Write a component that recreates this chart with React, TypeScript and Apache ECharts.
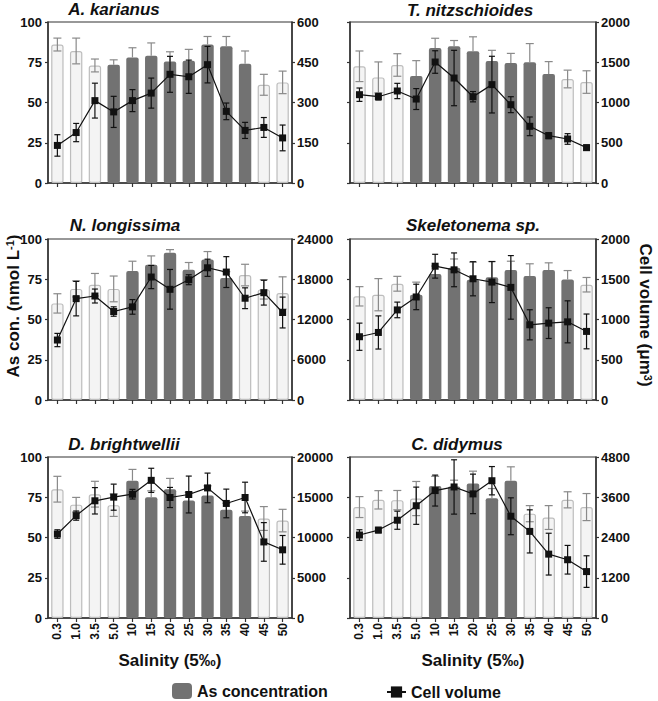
import React, { useEffect, useRef } from 'react';
import * as echarts from 'echarts';

const categories = ['0.3', '1.0', '3.5', '5.0', '10', '15', '20', '25', '30', '35', '40', '45', '50'];

// A. karianus
const akBar = [86, 82, 73, 73.5, 78, 79, 75.5, 76, 86, 85, 74, 61, 62.5];
const akBarErr = [4, 8, 4, 3, 6, 8, 6, 7, 5, 6, 8, 6.5, 7];
const akVol = [140, 188, 307, 265, 307, 335, 405, 396, 441, 267, 196, 207, 168];
const akVolErr = [40, 34, 65, 58, 41, 56, 67, 62, 68, 31, 30, 37, 48];
const akDark = [0, 0, 0, 1, 1, 1, 1, 1, 1, 1, 1, 0, 0];

// T. nitzschioides
const tnBar = [72.5, 65.6, 73.3, 66.5, 83.9, 85, 81.8, 75.8, 74.5, 75, 67.7, 64.6, 62.7];
const tnBarErr = [9.5, 9.6, 7, 9.5, 6, 3.5, 9, 6.6, 6, 11.6, 7.7, 5.5, 7];
const tnVol = [1097, 1072, 1143, 1043, 1503, 1304, 1072, 1222, 973, 704, 588, 547, 439];
const tnVolErr = [83, 41, 95, 130, 140, 344, 64, 352, 99, 116, 37, 66, 33];
const tnDark = [0, 0, 0, 1, 1, 1, 1, 1, 1, 1, 1, 0, 0];

// N. longissima
const nlBar = [60, 69, 71.6, 69, 80.2, 84, 91.4, 80.9, 87.2, 75.7, 77.6, 68.7, 66.5];
const nlBarErr = [6, 5, 7, 8, 6, 5.5, 2, 4.5, 5, 4, 6.7, 6, 10];
const nlVol = [8940, 15110, 15500, 13190, 13880, 18330, 16500, 17930, 19710, 19070, 15170, 16000, 13040];
const nlVolErr = [990, 2570, 1040, 700, 1090, 1730, 2960, 740, 1280, 2300, 1550, 1850, 2300];
const nlDark = [0, 0, 0, 0, 1, 1, 1, 1, 1, 1, 0, 0, 0];

// Skeletonema sp.
const skBar = [64.4, 65.4, 72.2, 65.4, 78.2, 82.1, 74.7, 76.3, 80.7, 77, 80.7, 74.9, 71.6];
const skBarErr = [6, 10, 4.6, 7.8, 5, 5.5, 11, 9.7, 5.5, 7.6, 4.5, 5.5, 4.5];
const skVol = [786, 839, 1119, 1280, 1662, 1617, 1506, 1465, 1399, 934, 955, 971, 852];
const skVolErr = [169, 206, 97, 158, 148, 210, 212, 255, 395, 187, 191, 261, 216];
const skDark = [0, 0, 0, 1, 1, 1, 1, 1, 1, 1, 1, 1, 0];

// D. brightwellii
const dbBar = [80, 70.4, 76.9, 70.1, 85.3, 75, 80, 73, 76.1, 67.3, 63.4, 61.8, 60.5];
const dbBarErr = [8, 4.5, 8, 7, 7, 4, 6.7, 5, 6, 4, 3, 7.4, 7];
const dbVol = [10430, 12720, 14560, 15010, 15380, 17100, 14970, 15340, 16160, 14230, 14970, 9450, 8470];
const dbVolErr = [530, 570, 1640, 1620, 600, 1500, 1250, 2290, 1840, 1780, 1900, 2400, 1780];
const dbDark = [0, 0, 0, 0, 1, 1, 1, 1, 1, 1, 1, 0, 0];

// C. didymus
const cdBar = [68.9, 73.4, 73.2, 74.2, 82, 81.6, 83.6, 74.4, 85.3, 64.8, 62.4, 73.4, 68.9];
const cdBarErr = [6.5, 5.7, 6, 10.6, 6, 4, 7.6, 6, 8.6, 5, 7.4, 5, 8.4];
const cdVol = [2474, 2621, 2915, 3347, 3799, 3907, 3700, 4093, 3033, 2582, 1904, 1737, 1384];
const cdVolErr = [157, 79, 270, 555, 461, 810, 589, 422, 550, 643, 623, 427, 471];
const cdDark = [0, 0, 0, 0, 1, 1, 1, 1, 1, 0, 0, 0, 0];

const titles = ['A. karianus', 'T. nitzschioides', 'N. longissima', 'Skeletonema sp.', 'D. brightwellii', 'C. didymus'];
const volMaxes = [600, 2000, 24000, 2000, 20000, 4800];

const panels = [
  { bar: akBar, barErr: akBarErr, vol: akVol, volErr: akVolErr, dark: akDark },
  { bar: tnBar, barErr: tnBarErr, vol: tnVol, volErr: tnVolErr, dark: tnDark },
  { bar: nlBar, barErr: nlBarErr, vol: nlVol, volErr: nlVolErr, dark: nlDark },
  { bar: skBar, barErr: skBarErr, vol: skVol, volErr: skVolErr, dark: skDark },
  { bar: dbBar, barErr: dbBarErr, vol: dbVol, volErr: dbVolErr, dark: dbDark },
  { bar: cdBar, barErr: cdBarErr, vol: cdVol, volErr: cdVolErr, dark: cdDark },
];

// layout
const colLeft = [48, 350];
const colWidth = [244, 246];
const rowTop = [22, 239, 457];
const plotHeight = 161;
const titlePos = [
  [114, 9], [470, 10], [125, 225], [473, 225], [124, 444], [457, 444],
];

const FONT = 'Liberation Sans, Arial, Helvetica, sans-serif';
const DARK = '#727272';
const LIGHT_FILL = '#f4f4f4';
const LIGHT_BORDER = '#bdbdbd';
const AXIS_COLOR = '#333333';

function makeErr(capHalf: number, color: string, width: number) {
  return (params: any, api: any) => {
    const i = api.value(0);
    const lo = api.coord([i, api.value(1)]);
    const hi = api.coord([i, api.value(2)]);
    const lowCap = api.value(3);
    const x = hi[0];
    const style = { stroke: color, lineWidth: width, fill: 'none' };
    const children: any[] = [
      { type: 'line', shape: { x1: x, y1: lo[1], x2: x, y2: hi[1] }, style },
      { type: 'line', shape: { x1: x - capHalf, y1: hi[1], x2: x + capHalf, y2: hi[1] }, style },
    ];
    if (lowCap) {
      children.push({ type: 'line', shape: { x1: x - capHalf, y1: lo[1], x2: x + capHalf, y2: lo[1] }, style });
    }
    return { type: 'group', children };
  };
}

function buildOption() {
  const grid: any[] = [];
  const xAxis: any[] = [];
  const yAxis: any[] = [];
  const series: any[] = [];
  const graphic: any[] = [];

  panels.forEach((p, k) => {
    const col = k % 2;
    const row = Math.floor(k / 2);
    const bottom = row === 2;
    grid.push({
      left: colLeft[col],
      top: rowTop[row],
      width: colWidth[col],
      height: plotHeight,
      show: true,
      borderColor: AXIS_COLOR,
      borderWidth: 1.2,
      backgroundColor: 'transparent',
    });
    xAxis.push({
      type: 'category',
      gridIndex: k,
      data: categories,
      boundaryGap: true,
      axisLine: { show: true, lineStyle: { color: AXIS_COLOR, width: 1.5 } },
      axisTick: { show: true, alignWithLabel: true, length: 4, lineStyle: { color: AXIS_COLOR, width: 1.2 } },
      axisLabel: {
        show: bottom,
        interval: 0,
        rotate: 90,
        margin: 5,
        fontSize: 12,
        fontWeight: 'bold',
        fontFamily: FONT,
        color: '#111',
      },
      splitLine: { show: false },
      name: bottom ? 'Salinity (5‰)' : '',
      nameLocation: 'middle',
      nameGap: 34,
      nameTextStyle: { fontSize: 17, fontWeight: 'bold', fontFamily: FONT, color: '#111' },
    });
    yAxis.push({
      type: 'value',
      gridIndex: k,
      position: 'left',
      min: 0,
      max: 100,
      interval: 25,
      axisLine: { show: true, lineStyle: { color: AXIS_COLOR, width: 1.5 } },
      axisTick: { show: true, length: 3, lineStyle: { color: AXIS_COLOR, width: 1.2 } },
      axisLabel: {
        show: col === 0,
        margin: 6,
        fontSize: 13,
        fontWeight: 'bold',
        fontFamily: FONT,
        color: '#111',
        formatter: (v: number) => String(v),
      },
      splitLine: { show: false },
    });
    const vmax = volMaxes[k];
    yAxis.push({
      type: 'value',
      gridIndex: k,
      position: 'right',
      min: 0,
      max: vmax,
      interval: vmax / 4,
      axisLine: { show: true, lineStyle: { color: AXIS_COLOR, width: 1.5 } },
      axisTick: { show: true, length: 3, lineStyle: { color: AXIS_COLOR, width: 1.2 } },
      axisLabel: {
        show: true,
        margin: 5,
        fontSize: 13,
        fontWeight: 'bold',
        fontFamily: FONT,
        color: '#111',
        formatter: (v: number) => String(v),
      },
      splitLine: { show: false },
    });

    series.push({
      name: 'As concentration',
      type: 'bar',
      xAxisIndex: k,
      yAxisIndex: 2 * k,
      barWidth: '66%',
      itemStyle: { color: DARK, borderRadius: 2 },
      z: 2,
      data: p.bar.map((v, i) => ({
        value: v,
        itemStyle: p.dark[i]
          ? { color: DARK, borderColor: DARK, borderWidth: 0 }
          : { color: LIGHT_FILL, borderColor: LIGHT_BORDER, borderWidth: 1.2 },
      })),
    });
    series.push({
      type: 'custom',
      xAxisIndex: k,
      yAxisIndex: 2 * k,
      z: 3,
      silent: true,
      renderItem: makeErr(4, '#8a8a8a', 1.2),
      encode: { x: 0, y: [1, 2] },
      data: p.bar.map((v, i) => [i, p.dark[i] ? v : v - p.barErr[i], v + p.barErr[i], p.dark[i] ? 0 : 1]),
    });
    series.push({
      type: 'custom',
      xAxisIndex: k,
      yAxisIndex: 2 * k + 1,
      z: 4,
      silent: true,
      renderItem: makeErr(3, '#111111', 1.2),
      encode: { x: 0, y: [1, 2] },
      data: p.vol.map((v, i) => [i, v - p.volErr[i], v + p.volErr[i], 1]),
    });
    series.push({
      name: 'Cell volume',
      type: 'line',
      xAxisIndex: k,
      yAxisIndex: 2 * k + 1,
      symbol: 'rect',
      symbolSize: 7,
      z: 5,
      lineStyle: { color: '#111', width: 1.2 },
      itemStyle: { color: '#111' },
      data: p.vol,
    });

    graphic.push({
      type: 'text',
      x: titlePos[k][0],
      y: titlePos[k][1],
      style: {
        text: titles[k],
        fontSize: 17,
        fontWeight: 'bold',
        fontStyle: 'italic',
        fontFamily: FONT,
        fill: '#111',
        align: 'center',
        verticalAlign: 'middle',
        textAlign: 'center',
        textVerticalAlign: 'middle',
      },
    });
  });

  graphic.push({
    type: 'text',
    x: 13,
    y: 306,
    rotation: Math.PI / 2,
    style: {
      text: 'As con. (nmol L{sup|-1})',
      fontSize: 17,
      fontWeight: 'bold',
      fontFamily: FONT,
      fill: '#111',
      align: 'center',
      verticalAlign: 'middle',
      textAlign: 'center',
      textVerticalAlign: 'middle',
      rich: {
        sup: { fontSize: 11, fontWeight: 'bold', fontFamily: FONT, fill: '#111', verticalAlign: 'top', padding: [0, 0, 6, 0] },
      },
    },
  });
  graphic.push({
    type: 'text',
    x: 645,
    y: 315,
    rotation: -Math.PI / 2,
    style: {
      text: 'Cell volume (μm{sup|3})',
      fontSize: 17,
      fontWeight: 'bold',
      fontFamily: FONT,
      fill: '#111',
      align: 'center',
      verticalAlign: 'middle',
      textAlign: 'center',
      textVerticalAlign: 'middle',
      rich: {
        sup: { fontSize: 11, fontWeight: 'bold', fontFamily: FONT, fill: '#111', verticalAlign: 'top', padding: [0, 0, 6, 0] },
      },
    },
  });

  return {
    animation: false,
    backgroundColor: '#ffffff',
    grid,
    xAxis,
    yAxis,
    series,
    graphic,
    legend: [
      {
        data: ['As concentration'],
        left: 172,
        top: 683,
        padding: 0,
        itemWidth: 20,
        itemHeight: 16,
        textStyle: { fontSize: 16, fontWeight: 'bold', fontFamily: FONT, color: '#111' },
        selectedMode: false,
      },
      {
        data: ['Cell volume'],
        left: 386,
        top: 684,
        padding: 0,
        itemWidth: 19,
        itemHeight: 14,
        textStyle: { fontSize: 16, fontWeight: 'bold', fontFamily: FONT, color: '#111' },
        selectedMode: false,
      },
    ],
  };
}

export default function App() {
  const ref = useRef<HTMLDivElement>(null);
  useEffect(() => {
    if (!ref.current) return;
    const chart = echarts.init(ref.current, undefined, { renderer: 'svg' });
    chart.setOption(buildOption() as any);
    return () => chart.dispose();
  }, []);
  return (
    <div
      ref={ref}
      style={{ position: 'fixed', left: 0, top: 0, width: 658, height: 701, background: '#fff' }}
    />
  );
}
